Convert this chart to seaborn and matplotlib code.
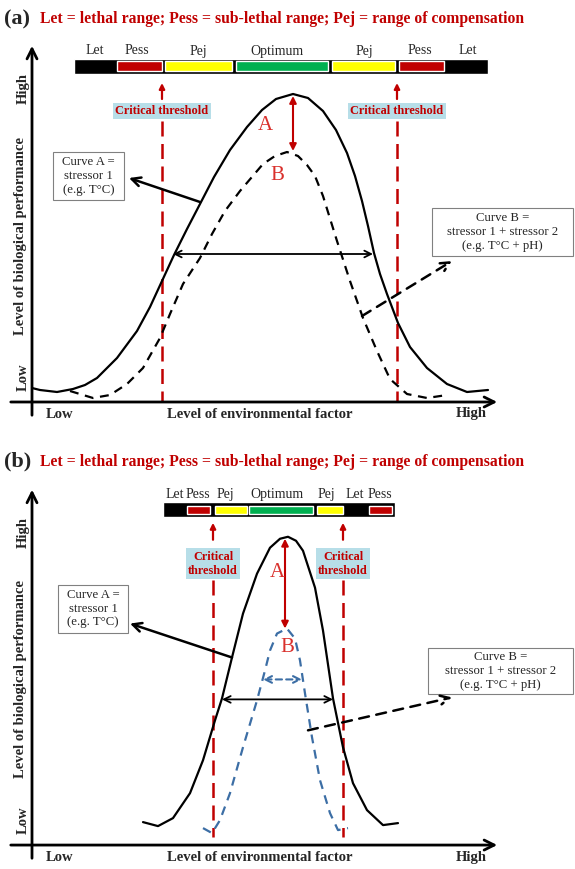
import matplotlib
matplotlib.use("Agg")
import matplotlib.pyplot as plt
from matplotlib.patches import Rectangle
import seaborn as sns

sns.set_theme(style="white")
plt.rcParams['font.family'] = ['Liberation Serif', 'DejaVu Serif']

RED = '#c00000'
LABEL_RED = '#d9302c'
YELLOW = '#ffff00'
GREEN = '#00b050'
BLUE = '#3c6ea5'
BOX_BLUE = '#b7dee8'

TITLE = 'Let = lethal range; Pess = sub-lethal range; Pej = range of compensation'

# units: distance from the axes origin (x to the right, y upwards)
# panel (a)
a_curve_a_x = [0, 8, 25, 41, 53, 65, 85, 105, 118, 130, 142, 155, 168, 182, 198, 215, 230, 244,
               261, 276, 291, 304, 315, 323, 330, 336, 342, 348, 355, 366, 378, 395, 415, 435, 456]
a_curve_a_y = [14, 12, 10, 13, 17, 24, 44, 71, 95, 121, 147, 173, 198, 225, 252, 275, 292, 303,
               308, 304, 291, 272, 249, 226, 201, 176, 149, 128, 108, 79, 55, 34, 18, 10, 12]
a_curve_b_x = [38, 61, 78, 95, 111, 128, 138, 151, 168, 180, 193, 208, 231, 243, 255, 266, 275,
               283, 291, 305, 318, 331, 345, 358, 375, 395, 415]
a_curve_b_y = [11, 4, 7, 18, 34, 64, 88, 118, 144, 168, 191, 211, 238, 246, 250, 246, 237,
               226, 206, 161, 121, 84, 51, 23, 8, 4, 7]
a_band_labels = ['Let', 'Pess', 'Pej', 'Optimum', 'Pej', 'Pess', 'Let']
a_band_label_x = [63, 105, 166, 245, 332, 388, 436]
a_band_frame = (42, 456)
a_band_start = [85, 133, 204, 300, 367]
a_band_end = [130, 200, 296, 363, 412]
a_band_colors = [RED, YELLOW, GREEN, YELLOW, RED]
a_thresholds = [130, 365]

# panel (b)
b_curve_a_x = [111, 126, 141, 158, 171, 183, 190, 200, 211, 225, 238, 248, 256, 264, 271,
               283, 291, 301, 311, 321, 335, 351, 366]
b_curve_a_y = [23, 19, 27, 52, 85, 125, 147, 188, 232, 272, 298, 307, 309, 305, 295,
               258, 215, 147, 98, 62, 35, 20, 22]
b_curve_b_x = [171, 180, 188, 198, 211, 225, 233, 238, 245, 255, 263, 268, 273, 280, 288, 298, 306, 316]
b_curve_b_y = [17, 12, 25, 52, 98, 145, 175, 195, 212, 217, 207, 185, 152, 108, 65, 32, 15, 17]
b_band_labels = ['Let', 'Pess', 'Pej', 'Optimum', 'Pej', 'Let', 'Pess']
b_band_label_x = [143, 166, 193, 245, 294, 323, 348]
b_band_frame = (131, 363)
b_band_start = [155, 183, 217, 285, 337]
b_band_end = [178, 215, 281, 311, 360]
b_band_colors = [RED, YELLOW, GREEN, YELLOW, RED]
b_thresholds = [181, 311]


def note_box(ax, x0, x1, y0, y1, text):
    ax.add_patch(Rectangle((x0, y0), x1 - x0, y1 - y0, facecolor='white',
                           edgecolor='#808080', lw=0.8, zorder=3))
    ax.text((x0 + x1) / 2, (y0 + y1) / 2, text, ha='center', va='center',
            fontsize=9.2, linespacing=1.2, zorder=4)


def draw_panel(ax, p):
    ax.set_axis_off()
    # axes arrows
    ax.annotate('', xy=(0, 359), xytext=(0, -16),
                arrowprops=dict(arrowstyle='->', lw=2, color='black', mutation_scale=18))
    ax.annotate('', xy=(468, 0), xytext=(-24, 0),
                arrowprops=dict(arrowstyle='->', lw=2, color='black', mutation_scale=18))
    ax.text(-9, 313, 'High', rotation=90, ha='center', va='center', fontsize=10.5, fontweight='bold')
    ax.text(-9, 25, 'Low', rotation=90, ha='center', va='center', fontsize=10.5, fontweight='bold')
    ax.text(-11, 166, 'Level of biological performance', rotation=90, ha='center',
            va='center', fontsize=10.5, fontweight='bold')
    ax.text(28, -12, 'Low', ha='center', va='center', fontsize=10.5, fontweight='bold')
    ax.text(228, -12, 'Level of environmental factor', ha='center', va='center',
            fontsize=10.5, fontweight='bold')
    ax.text(439, -12, 'High', ha='center', va='center', fontsize=10.5, fontweight='bold')

    # titles
    ax.text(-28, p['title_y'], p['tag'], ha='left', va='center', fontsize=16, fontweight='bold')
    ax.text(8, p['title_y'], TITLE, ha='left', va='center', fontsize=11.3,
            fontweight='bold', color=RED)

    # range band
    f0, f1 = p['frame']
    ax.barh(336, f1 - f0, left=f0, height=15, color='black')
    ax.barh([336] * len(p['start']), [e - s for s, e in zip(p['start'], p['end'])],
            left=p['start'], height=p['inner_h'], color=p['colors'])
    for lab, x in zip(p['labels'], p['label_x']):
        ax.text(x, 351, lab, ha='center', va='center', fontsize=10)

    # critical thresholds
    for x in p['thresholds']:
        ax.annotate('', xy=(x, p['arrow_tip']), xytext=(x, p['arrow_base']),
                    arrowprops=dict(arrowstyle='-|>', lw=1.6, color=RED, mutation_scale=8,
                                    shrinkA=0, shrinkB=0))
        ax.plot([x, x], [p['dash_top'], p['dash_bot']], color=RED, lw=1.8,
                linestyle=(0, (6, 3)))
        ax.text(x, p['ct_y'], p['ct_text'], ha='center', va='center', fontsize=8.8,
                fontweight='bold', color=RED, linespacing=1.25,
                bbox=dict(boxstyle='square,pad=0.2', facecolor=BOX_BLUE, edgecolor='none'))

    # curves
    sns.lineplot(x=p['ax_'], y=p['ay'], ax=ax, sort=False, estimator=None,
                 color='black', linewidth=1.6)
    sns.lineplot(x=p['bx'], y=p['by'], ax=ax, sort=False, estimator=None,
                 color=p['b_color'], linewidth=1.6, linestyle=(0, (4, 3)))

    # A / B
    ax.annotate('', xy=p['red_top'], xytext=p['red_bot'],
                arrowprops=dict(arrowstyle='<|-|>', lw=1.5, color=RED, mutation_scale=10,
                                shrinkA=0, shrinkB=0))
    ax.text(*p['a_pos'], 'A', ha='center', va='center', fontsize=15, color=LABEL_RED)
    ax.text(*p['b_pos'], 'B', ha='center', va='center', fontsize=15, color=LABEL_RED)

    # width arrows
    ax.annotate('', xy=(p['w_x'][1], p['w_y']), xytext=(p['w_x'][0], p['w_y']),
                arrowprops=dict(arrowstyle='<->', lw=1.3, color='black', mutation_scale=12,
                                shrinkA=0, shrinkB=0))
    if 'wb_x' in p:
        ax.annotate('', xy=(p['wb_x'][1], p['wb_y']), xytext=(p['wb_x'][0], p['wb_y']),
                    arrowprops=dict(arrowstyle='<->', lw=1.5, color=BLUE, mutation_scale=12,
                                    linestyle=(0, (3, 2)), shrinkA=0, shrinkB=0))

    # boxes
    note_box(ax, *p['boxa'], 'Curve A =\nstressor 1\n(e.g. T°C)')
    note_box(ax, *p['boxb'], 'Curve B =\nstressor 1 + stressor 2\n(e.g. T°C + pH)')
    ax.annotate('', xy=p['arra'][1], xytext=p['arra'][0],
                arrowprops=dict(arrowstyle='->', lw=1.8, color='black', mutation_scale=16,
                                shrinkA=0, shrinkB=0))
    ax.annotate('', xy=p['arrb'][1], xytext=p['arrb'][0],
                arrowprops=dict(arrowstyle='->', lw=1.8, color='black', mutation_scale=16,
                                linestyle=(0, (4, 3)), shrinkA=0, shrinkB=0))


fig = plt.figure(figsize=(5.75, 8.69), dpi=100)
ax_a = fig.add_axes([0, 434 / 869, 1, 434 / 869])
ax_b = fig.add_axes([0, 0, 1, 434 / 869])

draw_panel(ax_a, dict(
    tag='(a)', title_y=383, frame=a_band_frame, start=a_band_start, end=a_band_end,
    colors=a_band_colors, inner_h=10, labels=a_band_labels, label_x=a_band_label_x,
    thresholds=a_thresholds, arrow_tip=319, arrow_base=303, dash_top=281, dash_bot=1,
    ct_y=291, ct_text='Critical threshold',
    ax_=a_curve_a_x, ay=a_curve_a_y, bx=a_curve_b_x, by=a_curve_b_y, b_color='black',
    red_top=(261, 306), red_bot=(261, 251), a_pos=(233, 276), b_pos=(245, 226),
    w_x=(141, 341), w_y=148,
    boxa=(21, 92, 202, 250), boxb=(400, 541, 146, 194),
    arra=((168, 200), (97, 224)), arrb=((330, 86), (420, 141)),
))
ax_a.set_xlim(-32, 543)
ax_a.set_ylim(-33, 401)

draw_panel(ax_b, dict(
    tag='(b)', title_y=384, frame=b_band_frame, start=b_band_start, end=b_band_end,
    colors=b_band_colors, inner_h=8, labels=b_band_labels, label_x=b_band_label_x,
    thresholds=b_thresholds, arrow_tip=323, arrow_base=306, dash_top=266, dash_bot=8,
    ct_y=282, ct_text='Critical\nthreshold',
    ax_=b_curve_a_x, ay=b_curve_a_y, bx=b_curve_b_x, by=b_curve_b_y, b_color=BLUE,
    red_top=(253, 307), red_bot=(253, 217), a_pos=(245, 273), b_pos=(255, 198),
    w_x=(190, 301), w_y=146, wb_x=(231, 270), wb_y=166,
    boxa=(26, 96, 213, 261), boxb=(396, 541, 151, 198),
    arra=((200, 188), (98, 222)), arrb=((276, 115), (420, 148)),
))
ax_b.set_xlim(-32, 543)
ax_b.set_ylim(-24, 411)

fig.savefig('out.png', dpi=100)
